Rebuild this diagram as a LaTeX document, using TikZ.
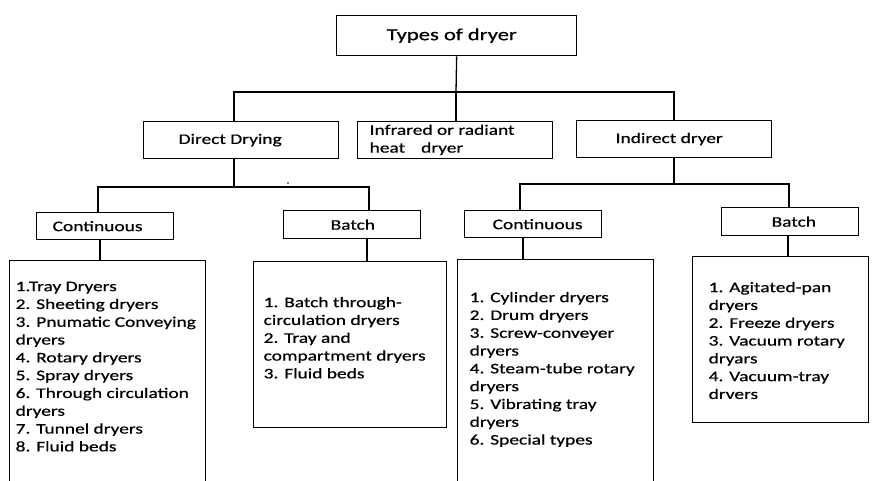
\documentclass[tikz,border=0pt]{standalone}
\usepackage{fontspec}
\newfontfamily\dfont[FakeStretch=1.33,FakeBold=0.6]{Carlito}
\newcommand\padtext[3]{\makebox[#1pt][l]{\hspace*{#2pt}#3}}
\begin{document}
\begin{tikzpicture}[x=1pt,y=-1pt,
  box/.style={draw, line width=1.3pt, anchor=north west, inner sep=0pt,
              font=\dfont\fontsize{14.6}{17.8}\selectfont},
  conn/.style={line width=1.3pt}]
\useasboundingbox (0,0) rectangle (874,481);
\clip (0,0) rectangle (874,481);

% level 0
\node[box, minimum width=240pt, minimum height=40pt,
      font=\dfont\fontsize{17}{20}\selectfont] (types) at (336,15)
      {\padtext{240}{50}{Types of dryer}};
% level 1
\node[box, minimum width=195pt, minimum height=37pt] (direct) at (143,121)
      {\padtext{195}{35}{Direct Drying}};
\node[box, minimum width=195pt, minimum height=37pt] (infra) at (357,121)
      {\padtext{195}{12}{\begin{tabular}{@{}l@{}}Infrared or radiant\\heat\hspace{16pt}dryer\end{tabular}}};
\node[box, minimum width=195pt, minimum height=37pt] (indirect) at (576,120)
      {\padtext{195}{39}{Indirect dryer}};
% level 2
\node[box, minimum width=137pt, minimum height=27pt] (contL) at (36,212)
      {\padtext{137}{16}{Continuous}};
\node[box, minimum width=137pt, minimum height=28pt] (batchL) at (283,210)
      {\padtext{137}{47}{Batch}};
\node[box, minimum width=137pt, minimum height=27pt] (contR) at (464,210)
      {\padtext{137}{28}{Continuous}};
\node[box, minimum width=137pt, minimum height=28pt] (batchR) at (721,207)
      {\padtext{137}{50}{Batch}};
% lists
\node[box, text height=30.5pt, text depth=209.5pt] (listL) at (9,260)
      {\padtext{196}{6}{\begin{tabular}[t]{@{}l@{}}
      1.Tray Dryers\\
      2. Sheeting dryers\\
      3. Pnumatic Conveying\\
      dryers\\
      4. Rotary dryers\\
      5. Spray dryers\\
      6. Through circulation\\
      dryers\\
      7. Tunnel dryers\\
      8. Fluid beds\end{tabular}}};
\node[box, text height=45.5pt, text depth=120.5pt] (listBL) at (253,261)
      {\padtext{193}{10}{\begin{tabular}[t]{@{}l@{}}
      1. Batch through-\\
      circulation dryers\\
      2. Tray and\\
      compartment dryers\\
      3. Fluid beds\end{tabular}}};
\node[box, text height=42.5pt, text depth=197.5pt] (listR) at (457,259)
      {\padtext{196}{12}{\begin{tabular}[t]{@{}l@{}}
      1. Cylinder dryers\\
      2. Drum dryers\\
      3. Screw-conveyer\\
      dryers\\
      4. Steam-tube rotary\\
      dryers\\
      5. Vibrating tray\\
      dryers\\
      6. Special types\end{tabular}}};
\node[box, text height=35.5pt, text depth=130.5pt] (listBR) at (692,256)
      {\padtext{176}{16}{\begin{tabular}[t]{@{}l@{}}
      1. Agitated-pan\\
      dryers\\
      2. Freeze dryers\\
      3. Vacuum rotary\\
      dryars\\
      4. Vacuum-tray\\
      drvers\end{tabular}}};

% connectors level 0 -> 1
\coordinate (j1) at (456,92);
\coordinate (j1l) at (234,92);
\coordinate (j1r) at (674,92);
\draw[conn] (types.south) -- (j1);
\draw[conn] (direct.north -| j1l) -- (j1l) -- (j1r) -- (indirect.north -| j1r);
\draw[conn] (j1) -- (infra.north -| j1);
% direct -> level 2
\coordinate (j2) at (234,187);
\coordinate (j2l) at (98,187);
\coordinate (j2r) at (369,187);
\draw[conn] (direct.south -| j2) -- (j2);
\draw[conn] (contL.north -| j2l) -- (j2l) -- (j2r) -- (batchL.north -| j2r);
% indirect -> level 2
\coordinate (j3) at (674,184);
\coordinate (j3l) at (520,184);
\coordinate (j3r) at (789,184);
\draw[conn] (indirect.south -| j3) -- (j3);
\draw[conn] (contR.north -| j3l) -- (j3l) -- (j3r) -- (batchR.north -| j3r);
% level 2 -> lists
\coordinate (k1) at (100,250);
\coordinate (k2) at (367,250);
\coordinate (k3) at (523,250);
\coordinate (k4) at (788,250);
\draw[conn] (contL.south -| k1) -- (listL.north -| k1);
\draw[conn] (batchL.south -| k2) -- (listBL.north -| k2);
\draw[conn] (contR.south -| k3) -- (listR.north -| k3);
\draw[conn] (batchR.south -| k4) -- (listBR.north -| k4);
% stray dot
\fill (288,183) circle (0.8pt);
\end{tikzpicture}
\end{document}
